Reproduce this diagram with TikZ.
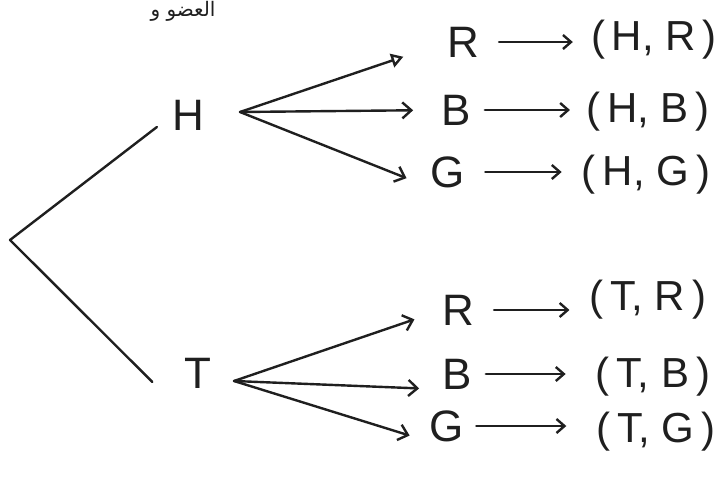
\documentclass[tikz,border=0pt]{standalone}
\usepackage{fontspec}
\setmainfont{Liberation Sans}
\newfontfamily\arabicfont[Script=Arabic]{DejaVu Sans}
\TeXXeTstate=1
\usetikzlibrary{arrows.meta}
\tikzset{
  ink/.style={line width=2.4pt, draw=black!88, line cap=round, line join=round},
  lbl/.style={inner sep=0pt, font=\fontsize{44}{50}\selectfont, text=black!88},
  pair/.style={inner sep=0pt, font=\fontsize{42}{50}\selectfont, text=black!88},
  branch/.style={ink, -{Straight Barb[length=9pt,width=16pt,line width=2.4pt]}},
  tribranch/.style={ink, -{Triangle[length=12pt,width=14pt,open,line width=2.4pt]}},
  maps/.style={ink, -{Straight Barb[length=8pt,width=14pt,line width=2.4pt]}},
}
\begin{document}
\begin{tikzpicture}[x=1pt, y=-1pt]
\useasboundingbox (0,0) rectangle (724,477);
\fill[white] (0,0) rectangle (724,477);

% heading above the tree
\node[anchor=north, inner sep=1pt, text=black!88] (head) at (183,0)
  {\fontsize{20}{22}\selectfont\arabicfont\beginR العضو و\endR};

% first stage
\coordinate (root) at (10,240);
\node[lbl] (H) at (188,115) {H};
\node[lbl] (T) at (198,373) {T};
\draw[ink] ([xshift=-15pt,yshift=-12pt]H.west) -- (root) -- ([xshift=-32pt,yshift=-9pt]T.west);

% second stage after H
\coordinate (hs) at (240,112);
\node[lbl] (hR) at (463,42) {R};
\node[lbl] (hB) at (456,110) {B};
\node[lbl] (hG) at (448,172) {G};
\draw[tribranch, shorten >=46pt] (hs) -- (hR.west);
\draw[branch, shorten >=28pt] (hs) -- (hB.west);
\draw[branch, shorten >=26pt] (hs) -- (hG.south west);

% second stage after T
\coordinate (ts) at (234,381);
\node[lbl] (tR) at (458,310) {R};
\node[lbl] (tB) at (457,374) {B};
\node[lbl] (tG) at (447,426) {G};
\draw[branch, shorten >=29pt] (ts) -- (tR.west);
\draw[branch, shorten >=23pt] (ts) -- (tB.south west);
\draw[branch, shorten >=21pt] (ts) -- (tG.south west);

% outcomes
\node[pair] (oHR) at (654,40) {(\,H,\;R\,)};
\node[pair] (oHB) at (648,112) {(\,H,\;B\,)};
\node[pair] (oHG) at (646,175) {(\,H,\;G\,)};
\node[pair] (oTR) at (648,300) {(\,T,\;R\,)};
\node[pair] (oTB) at (653,377) {(\,T,\;B\,)};
\node[pair] (oTG) at (656,432) {(\,T,\;G\,)};

\draw[maps, shorten <=20pt, shorten >=18pt] (hR.east) -- (hR.east -| oHR.west);
\draw[maps, shorten <=14pt, shorten >=16pt] (hB.east) -- (hB.east -| oHB.west);
\draw[maps, shorten <=20pt, shorten >=20pt] (hG.east) -- (hG.east -| oHG.west);
\draw[maps, shorten <=20pt, shorten >=20pt] (tR.east) -- (tR.east -| oTR.west);
\draw[maps, shorten <=14pt, shorten >=30pt] (tB.east) -- (tB.east -| oTB.west);
\draw[maps, shorten <=12pt, shorten >=30pt] (tG.east) -- (tG.east -| oTG.west);
\end{tikzpicture}
\end{document}
